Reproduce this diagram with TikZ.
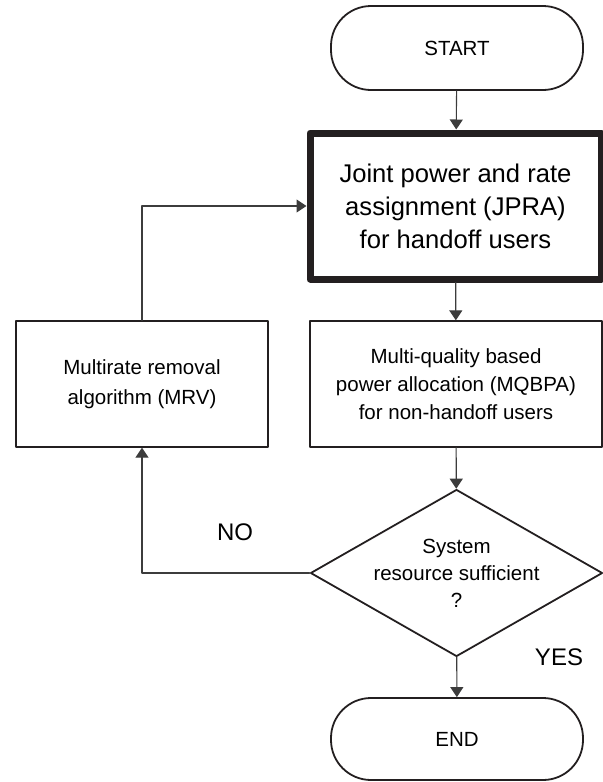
\documentclass[tikz,border=0pt]{standalone}
\usepackage{fontspec}
\setmainfont{Liberation Sans}
\usetikzlibrary{arrows.meta,shapes.geometric}
\definecolor{Edge}{RGB}{35,31,32}
\definecolor{Wire}{RGB}{60,60,60}

\begin{document}
\begin{tikzpicture}[x=0.5pt,y=-0.5pt,line cap=round,line join=round,
  termbox/.style={rectangle,rounded corners=20pt,draw=Edge,line width=0.9pt,
    minimum width=126pt,inner sep=0pt,font=\fontsize{10.25}{14}\selectfont},
  procbox/.style={rectangle,draw=Edge,line width=0.9pt,minimum height=62.75pt,
    inner sep=0pt,align=center,font=\fontsize{10.25}{14}\selectfont},
  decbox/.style={diamond,draw=Edge,line width=0.9pt,aspect=1.75,inner sep=0pt,
    minimum width=146pt,minimum height=83.5pt,align=center,
    font=\fontsize{10.25}{13.5}\selectfont},
  wire/.style={draw=Wire,line width=0.55pt,-{Triangle[length=5pt,width=6.5pt]}},
  lbl/.style={font=\fontsize{12}{14}\selectfont}]
\path[use as bounding box] (0,0) rectangle (603,782);
\node[termbox,minimum height=42pt] (start) at (457,48) {START};
\node[procbox,line width=3.5pt,minimum width=145.5pt,minimum height=73pt,
  font=\fontsize{12.8}{16.5}\selectfont] (jpra) at (455.5,206)
  {Joint power and rate\\assignment (JPRA)\\for handoff users};
\node[procbox,minimum width=146pt] (mqbpa) at (456,384)
  {Multi-quality based\\power allocation (MQBPA)\\for non-handoff users};
\node[procbox,minimum width=126pt,font=\fontsize{10.25}{15}\selectfont] (mrv) at (142,384)
  {Multirate removal\\algorithm (MRV)};
\node[decbox] (check) at (456.5,573) {System\\resource sufficient\\?};
\node[termbox,minimum height=41pt] (stop) at (457,739) {END};
\node[lbl] (no) at (235,532.5) {NO};
\node[lbl] (yes) at (559,657.5) {YES};
% main flow
\draw[wire] (start) -- (jpra);
\draw[wire] (jpra) -- (mqbpa);
\draw[wire] (mqbpa) -- (check);
\draw[wire] (check) -- (stop);
% loop back
\draw[wire] (check.west) -| (mrv.south);
\draw[wire] (mrv.north) |- (jpra.west);
\end{tikzpicture}
\end{document}
